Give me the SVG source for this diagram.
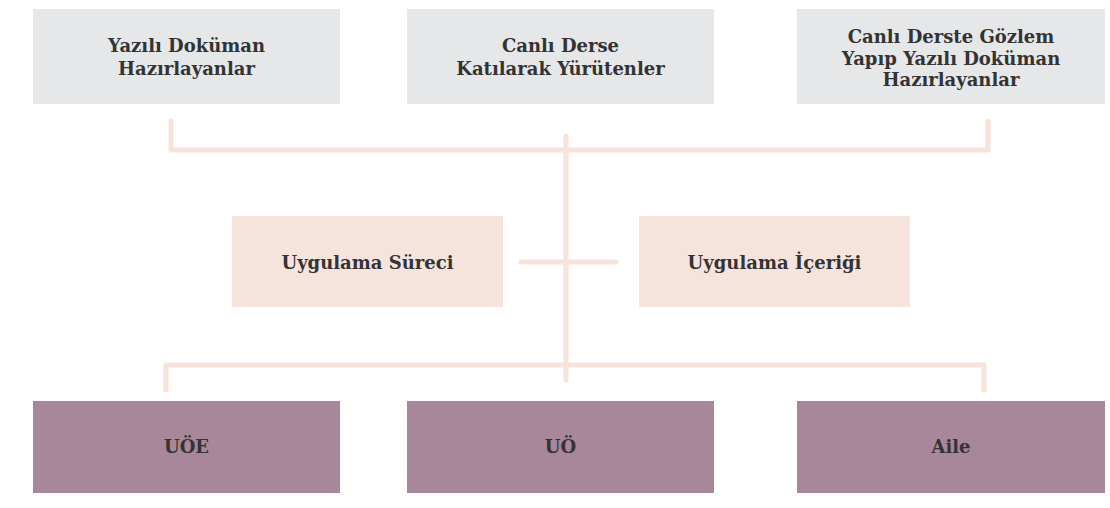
<svg xmlns="http://www.w3.org/2000/svg" width="1110" height="508" viewBox="0 0 1110 508">
<style>
.g{fill:#e6e7e8}
.p{fill:#f6e3dc}
.m{fill:#a78799}
.t{font-family:"DejaVu Serif","Liberation Serif",serif;font-weight:bold;font-size:18px;fill:#333333;text-anchor:middle}
.c{fill:none;stroke:#f6e3dc;stroke-width:5;stroke-linecap:round;stroke-linejoin:round}
</style>
<rect width="1110" height="508" fill="#ffffff"/>
<g id="connectors">
<path class="c" d="M171 121 V150 H988 V121"/>
<path class="c" d="M566 136 V380"/>
<path class="c" d="M521 262 H616"/>
<path class="c" d="M166 390 V365 H984 V390"/>
</g>
<g id="n1"><rect class="g" x="33" y="9" width="307" height="95"/>
<text class="t" x="186.5" y="52">Yazılı Doküman</text><text class="t" x="186.5" y="75">Hazırlayanlar</text></g>
<g id="n2"><rect class="g" x="407" y="9" width="307" height="95"/>
<text class="t" x="560.5" y="52">Canlı Derse</text><text class="t" x="560.5" y="75">Katılarak Yürütenler</text></g>
<g id="n3"><rect class="g" x="797" y="9" width="308" height="95"/>
<text class="t" x="951" y="43">Canlı Derste Gözlem</text><text class="t" x="951" y="65">Yapıp Yazılı Doküman</text><text class="t" x="951" y="86">Hazırlayanlar</text></g>
<g id="n4"><rect class="p" x="232" y="216" width="271" height="91"/>
<text class="t" x="367.5" y="269">Uygulama Süreci</text></g>
<g id="n5"><rect class="p" x="639" y="216" width="271" height="91"/>
<text class="t" x="774.5" y="269">Uygulama İçeriği</text></g>
<g id="n6"><rect class="m" x="33" y="401" width="307" height="92"/>
<text class="t" x="186.5" y="453">UÖE</text></g>
<g id="n7"><rect class="m" x="407" y="401" width="307" height="92"/>
<text class="t" x="560.5" y="453">UÖ</text></g>
<g id="n8"><rect class="m" x="797" y="401" width="308" height="92"/>
<text class="t" x="951" y="453">Aile</text></g>
</svg>
